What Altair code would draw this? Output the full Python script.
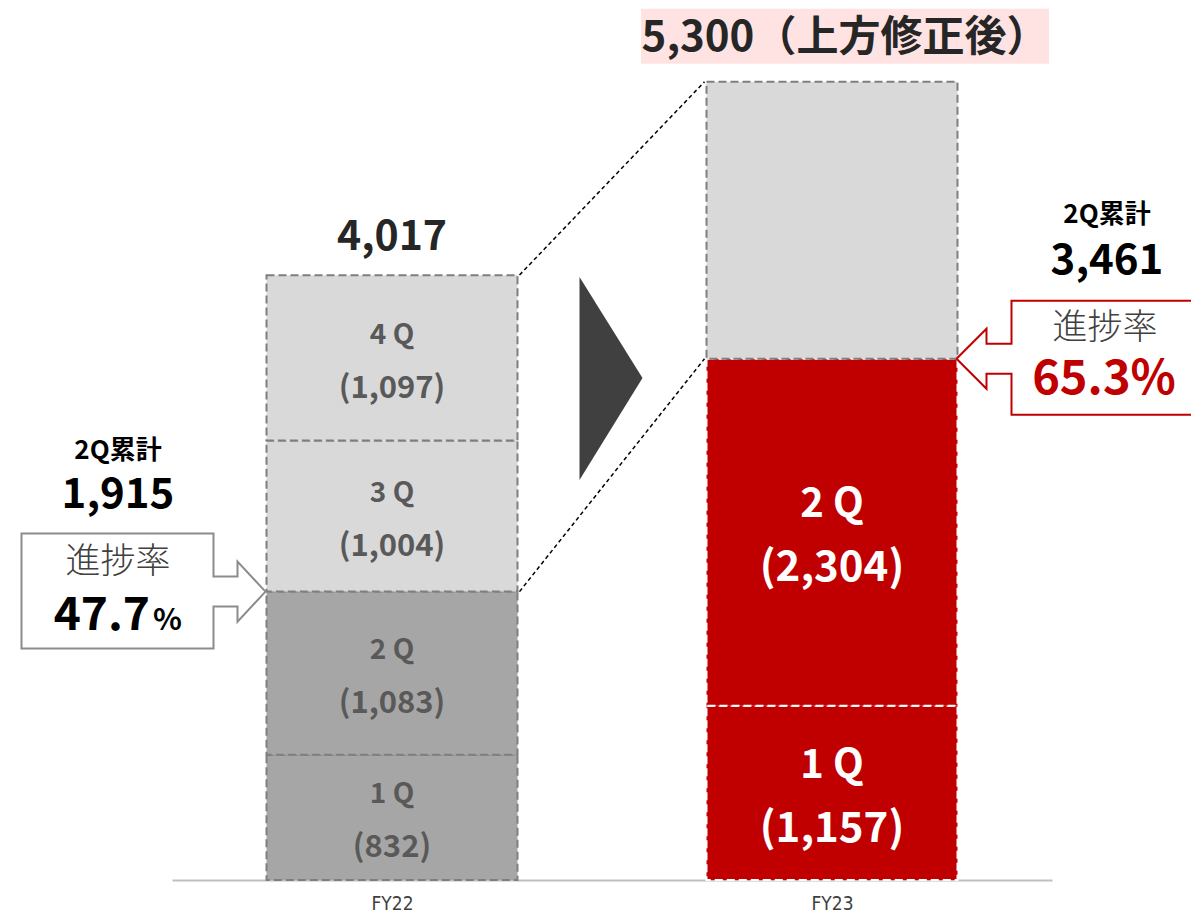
import altair as alt
import pandas as pd

# ---------------- data ----------------
categories = ["FY22", "FY23"]
fy22_quarters = ["1 Q", "2 Q", "3 Q", "4 Q"]
fy22_values = [832, 1083, 1004, 1097]
fy22_total = 4017
fy23_quarters = ["1 Q", "2 Q"]
fy23_values = [1157, 2304]
fy23_target = 5300
fy23_target_text = "5,300（上方修正後）"
cum_label = "2Q累計"
progress_label = "進捗率"
fy22_h1 = 1915
fy23_h1 = 3461
fy22_progress = "47.7"
fy23_progress = "65.3%"

# ---------------- geometry / style ----------------
W, H = 880, 872
PAD = {"left": 164, "right": 139, "top": 0, "bottom": 32}
X_DOMAIN = [-0.5, 1.5]
Y_MAX = 5790
SX = W / (X_DOMAIN[1] - X_DOMAIN[0])   # px per category unit
SY = H / Y_MAX                          # px per value unit
HALF = 125.5 / SX                       # half bar width
FONT = "Noto Sans CJK JP"


def px_x(p):
    return p / SX


def px_y(p):  # positive p = upwards
    return p / SY


xscale = alt.Scale(domain=X_DOMAIN, nice=False, zero=False)
yscale = alt.Scale(domain=[0, Y_MAX], nice=False, zero=False)
label_expr = "[" + ",".join("'%s'" % c for c in categories) + "][datum.value]"
xaxis = alt.Axis(values=list(range(len(categories))), labelExpr=label_expr, ticks=False,
                 grid=False, domainColor="#BFBFBF", domainWidth=2, labelFontSize=19,
                 labelColor="#404040", labelPadding=14, title=None,
                 labelFont="Liberation Sans Narrow, DejaVu Sans Condensed, sans-serif")


def X(f):
    return alt.X(f, type="quantitative", scale=xscale, axis=xaxis)


def Y(f):
    return alt.Y(f, type="quantitative", scale=yscale, axis=None)


# ---------------- bar segments ----------------
seg = []
cum = 0
for q, v in zip(fy22_quarters, fy22_values):
    seg.append(dict(cx=0, q=q, v=v, y0=cum, y1=cum + v,
                    kind="FY22上期" if cum + v <= fy22_h1 else "FY22下期"))
    cum += v
cum = 0
for q, v in zip(fy23_quarters, fy23_values):
    seg.append(dict(cx=1, q=q, v=v, y0=cum, y1=cum + v, kind="FY23実績"))
    cum += v
seg.append(dict(cx=1, q="", v=fy23_target - cum, y0=cum, y1=fy23_target, kind="FY23残り"))
seg = pd.DataFrame(seg)
seg["xl"] = seg["cx"] - HALF
seg["xr"] = seg["cx"] + HALF
seg["mid"] = (seg["y0"] + seg["y1"]) / 2
seg["paren"] = seg["v"].map(lambda v: "(" + format(v, ",") + ")")

kinds = ["FY22上期", "FY22下期", "FY23実績", "FY23残り"]
fills = ["#A6A6A6", "#D9D9D9", "#C00000", "#D9D9D9"]
strokes = ["#7F7F7F", "#7F7F7F", "#FFFFFF", "#7F7F7F"]

bars = alt.Chart(seg).mark_rect(strokeDash=[8, 4], strokeWidth=2).encode(
    x=X("xl"), x2="xr", y=Y("y0"), y2="y1",
    fill=alt.Fill("kind:N", scale=alt.Scale(domain=kinds, range=fills), legend=None),
    stroke=alt.Stroke("kind:N", scale=alt.Scale(domain=kinds, range=strokes), legend=None),
)

lab22 = seg[(seg.cx == 0)]
lab23 = seg[(seg.cx == 1) & (seg.q != "")]


def seg_text(df, field, size, color, dyp):
    return alt.Chart(df).mark_text(font=FONT, fontWeight="bold", fontSize=size, color=color,
                                   dy=dyp, baseline="middle").encode(
        x=X("cx"), y=Y("mid"), text=field + ":N")


t22a = seg_text(lab22, "q", 28, "#595959", -22)
t22b = seg_text(lab22, "paren", 31, "#595959", 31)
t23a = seg_text(lab23, "q", 40, "#FFFFFF", -27)
t23b = seg_text(lab23, "paren", 42, "#FFFFFF", 36)

# ---------------- connectors ----------------
conn = pd.DataFrame([
    dict(g=0, o=0, x=0 + HALF + px_x(2), y=fy22_total),
    dict(g=0, o=1, x=1 - HALF - px_x(2), y=fy23_target),
    dict(g=1, o=0, x=0 + HALF + px_x(2), y=fy22_h1),
    dict(g=1, o=1, x=1 - HALF - px_x(2), y=fy23_h1),
])
connectors = alt.Chart(conn).mark_line(color="#000000", strokeWidth=1.5, strokeDash=[4, 3]).encode(
    x=X("x"), y=Y("y"), detail="g:N", order="o:Q")

# ---------------- triangle arrow ----------------
tri_x0 = 0 + HALF + px_x(62)
tri = pd.DataFrame([
    dict(x=tri_x0, y=fy22_total - px_y(2), y2=fy22_total - px_y(205)),
    dict(x=tri_x0 + px_x(63), y=fy22_total - px_y(103), y2=fy22_total - px_y(103)),
])
triangle = alt.Chart(tri).mark_area(color="#404040", orient="vertical").encode(
    x=X("x"), y=Y("y"), y2="y2")


# ---------------- callouts ----------------
def callout(tip_x, tip_y, pts, sign):
    rows = []
    for i, (a, b) in enumerate(pts):
        rows.append(dict(o=i, x=tip_x + sign * px_x(a), y=tip_y - px_y(b)))
    return pd.DataFrame(rows)


shape_pts = [(0, 0), (28, -30), (28, -15), (52, -15), (52, -58), (244, -58), (244, 57),
             (52, 57), (52, 15), (28, 15), (28, 30), (0, 0)]
left_call = callout(0 - HALF - px_x(1), fy22_h1, shape_pts, -1)
right_shape = [(0, 0), (30, -30), (30, -15), (55, -15), (55, -58), (320, -58), (320, 56),
               (55, 56), (55, 15), (30, 15), (30, 30), (0, 0)]
right_call = callout(1 + HALF - px_x(1), fy23_h1, right_shape, 1)

lc = alt.Chart(left_call).mark_line(color="#8C8C8C", strokeWidth=2, strokeJoin="miter").encode(
    x=X("x"), y=Y("y"), order="o:Q")
rc = alt.Chart(right_call).mark_line(color="#C00000", strokeWidth=2, strokeJoin="miter").encode(
    x=X("x"), y=Y("y"), order="o:Q")

# ---------------- annotation texts ----------------
LX = 0 + px_x(118 - 392)
RX = 1 + px_x(1107 - 832)


def txt(rows, size, color, weight="bold", align="center", baseline="middle"):
    return alt.Chart(pd.DataFrame(rows)).mark_text(
        font=FONT, fontSize=size, color=color, fontWeight=weight, align=align,
        baseline=baseline).encode(x=X("x"), y=Y("y"), text="t:N")


pink = alt.Chart(pd.DataFrame([dict(x=1 - px_x(191), x2=1 + px_x(217),
                                    y=fy23_target + px_y(73), y2=fy23_target + px_y(18))])
                 ).mark_rect(color="#FFE3E3").encode(x=X("x"), x2="x2", y=Y("y"), y2="y2")

texts = [
    txt([dict(x=1 + px_x(13), y=fy23_target + px_y(44), t=fy23_target_text)], 42, "#262626"),
    txt([dict(x=0, y=fy22_total + px_y(37), t=format(fy22_total, ","))], 41, "#262626"),
    txt([dict(x=LX, y=fy22_h1 + px_y(141), t=cum_label),
         dict(x=RX, y=fy23_h1 + px_y(144), t=cum_label)], 26, "#000000"),
    txt([dict(x=LX, y=fy22_h1 + px_y(97), t=format(fy22_h1, ",")),
         dict(x=RX, y=fy23_h1 + px_y(98), t=format(fy23_h1, ","))], 42, "#000000"),
    txt([dict(x=LX, y=fy22_h1 + px_y(30), t=progress_label),
         dict(x=RX - px_x(2), y=fy23_h1 + px_y(31), t=progress_label)], 35, "#404040", weight=300),
    txt([dict(x=LX + px_x(32), y=fy22_h1 - px_y(38), t=fy22_progress)], 46, "#000000",
        align="right", baseline="alphabetic"),
    txt([dict(x=LX + px_x(35), y=fy22_h1 - px_y(38), t="%")], 30, "#000000",
        align="left", baseline="alphabetic"),
    txt([dict(x=RX - px_x(3), y=fy23_h1 - px_y(21), t=fy23_progress)], 47, "#C00000"),
]

chart = alt.layer(pink, bars, t22a, t22b, t23a, t23b, connectors, triangle, lc, rc, *texts).properties(
    width=W, height=H, padding=PAD, autosize=alt.AutoSizeParams(type="none")
).configure_view(stroke=None)

chart.save("out.html", embed_options={"renderer": "svg", "actions": False})
